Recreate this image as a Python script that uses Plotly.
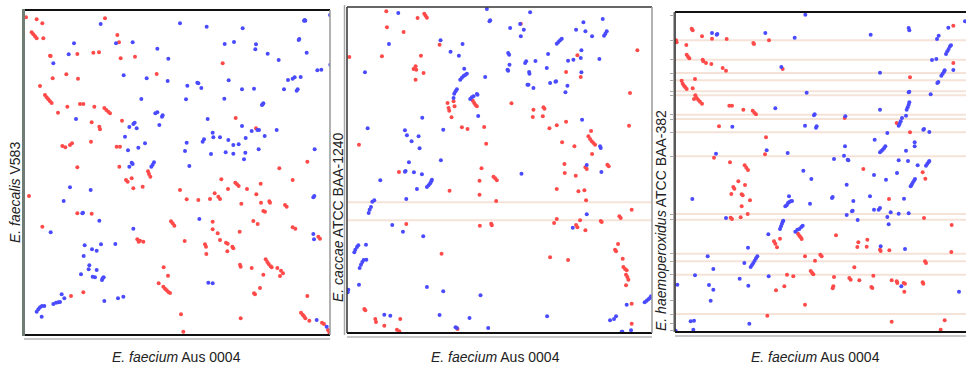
import plotly.graph_objects as go

W, H = 966, 369

# ---------------- data (genome positions, arbitrary bins; y counted from top) -------------
p1_fwd = [(6,22),(38,28),(55,40),(243,25),(23,67),(28,73),(33,79),(38,85),(58,85),(280,75),(285,97),
 (160,132),(78,137),(80,138),(208,128),(225,127),(290,145),(333,140),(596,160),(86,205),(127,193),(162,206),
 (398,192),(48,228),(63,255),(68,262),(73,268),(78,274),(83,279),(102,308),(130,290),(168,282),(178,282),
 (211,290),(241,294),(247,300),(253,305),(258,310),(203,337),(226,350),(228,358),(294,332),(201,395),
 (115,408),(124,412),(138,405),(144,400),(278,410),(288,410),(635,324),(696,355),(160,472),(286,470),
 (372,484),(375,492),(379,500),(306,510),(311,515),(323,505),(328,535),(356,530),(766,475),(850,455),
 (15,558),(468,540),(488,568),(523,570),(558,567),(572,550),(583,560),(588,567),(592,508),(634,518),
 (639,523),(644,528),(612,537),(652,581),(669,537),(697,553),(710,521),(711,578),(736,574),(738,578),
 (718,603),(723,605),(783,585),(788,590),(806,510),(160,610),(203,611),(55,650),(441,634),(446,640),
 (451,647),(566,635),(566,658),(581,670),(588,690),(606,698),(611,701),(625,710),(628,715),(647,665),
 (688,633),(701,642),(806,652),(814,656),(883,680),(888,686),(340,688),(344,695),(348,692),(358,695),
 (482,693),(543,703),(546,710),(547,732),(610,724),(648,764),(650,770),(683,774),(718,794),(725,748),
 (730,756),(734,762),(740,769),(743,772),(760,774),(768,798),(771,782),(777,790),(419,772),(432,797),
 (404,820),(418,830),(423,836),(428,841),(433,846),(438,849),(178,847),(141,858),(690,850),(693,853),
 (708,834),(850,858),(471,913),(478,965),(650,925),(831,908),(836,914),(840,919),(844,925),(856,932),
 (894,938),(900,942),(912,960),(916,968)]
p1_rev = [(230,42),(468,40),(548,50),(656,55),(840,32),(844,32),(842,30),(918,15),(150,100),(276,100),
 (326,97),(400,116),(602,102),(630,96),(696,103),(694,118),(824,90),(826,87),(134,133),(88,160),(433,146),
 (731,131),(764,150),(848,128),(299,196),(368,205),(431,213),(490,227),(520,218),(523,220),(532,234),
 (614,211),(654,238),(690,236),(780,238),(792,210),(806,206),(812,202),(830,201),(818,242),(821,238),
 (880,181),(892,179),(919,164),(352,267),(486,268),(601,266),(714,285),(718,280),(716,283),(156,327),
 (394,310),(400,307),(414,320),(416,316),(406,345),(316,351),(328,342),(332,338),(338,355),(303,380),
 (551,327),(654,348),(683,363),(700,360),(705,360),(722,378),(758,360),(540,388),(536,395),(566,368),
 (568,382),(588,382),(613,390),(628,405),(644,403),(665,384),(488,398),(483,423),(561,432),(605,427),
 (628,431),(664,428),(660,448),(704,418),(872,418),(312,421),(343,413),(363,400),(323,458),(326,462),
 (316,470),(382,470),(386,464),(390,457),(496,468),(138,532),(200,540),(119,573),(868,562),(871,558),
 (175,610),(177,608),(226,632),(80,667),(328,656),(526,627),(868,672),(870,688),(182,706),(204,718),
 (231,703),(179,738),(218,722),(196,766),(194,778),(218,780),(206,800),(213,802),(234,810),(236,805),
 (239,802),(274,702),(171,793),(553,818),(566,820),(113,853),(121,865),(88,882),(96,878),(103,877),
 (108,876),(38,905),(43,898),(48,892),(54,888),(61,888),(53,920),(241,873),(282,865),(298,860),
 (878,930),(908,950)]

p2_fwd = [(118,13),(120,61),(170,75),(212,33),(232,20),(236,26),(240,32),(7,150),(105,148),(278,113),
 (200,186),(206,178),(208,188),(230,198),(206,218),(222,146),(522,50),(692,145),(872,130),(658,195),
 (702,210),(850,258),(302,288),(320,283),(305,303),(307,311),(323,298),(314,331),(378,281),(382,288),
 (386,294),(390,298),(494,289),(560,308),(558,330),(590,301),(593,305),(588,328),(345,361),(362,366),
 (412,360),(418,410),(608,364),(630,355),(658,344),(733,372),(847,356),(36,413),(646,406),(683,418),
 (725,388),(730,396),(735,403),(740,408),(745,413),(736,441),(404,484),(398,521),(440,509),(445,514),
 (450,520),(156,495),(308,551),(398,563),(448,582),(653,471),(654,498),(687,506),(716,481),(720,486),
 (782,473),(786,478),(630,546),(695,553),(713,550),(718,580),(855,608),(178,651),(399,656),(433,650),
 (435,655),(622,648),(630,636),(688,654),(692,661),(700,640),(716,670),(762,642),(765,645),(818,628),
 (822,633),(814,711),(805,728),(808,733),(828,755),(830,780),(835,786),(840,790),(838,803),(842,810),
 (845,818),(838,835),(855,890),(855,950),(284,740),(610,751),(664,759),(52,906),(55,910),(85,936),
 (87,945),(112,956),(160,936),(150,968),(157,973),(332,966)]
p2_rev = [(154,18),(420,6),(430,40),(428,43),(550,16),(490,63),(520,51),(531,68),(522,88),(688,68),
 (710,46),(716,73),(736,88),(768,36),(772,86),(776,80),(780,73),(630,110),(635,105),(640,100),(645,95),
 (126,111),(281,100),(347,111),(311,134),(336,146),(484,138),(487,143),(488,173),(482,188),(484,191),
 (538,163),(535,168),(566,162),(604,141),(600,183),(547,195),(548,200),(542,233),(545,233),(560,243),
 (610,228),(626,224),(628,223),(662,236),(656,256),(664,161),(680,158),(702,153),(704,130),(758,156),
 (704,196),(54,196),(352,185),(340,218),(345,212),(350,207),(355,204),(360,200),(415,210),(322,260),
 (326,253),(330,247),(320,273),(370,276),(375,271),(380,268),(390,261),(392,263),(394,327),(226,332),
 (289,368),(62,364),(174,370),(180,385),(215,388),(194,403),(218,424),(282,460),(706,338),(760,418),
 (762,423),(720,474),(764,495),(524,500),(186,466),(174,494),(176,492),(201,496),(225,502),(240,540),
 (245,535),(250,529),(253,523),(255,518),(100,520),(210,546),(178,576),(65,618),(68,608),(72,600),
 (76,584),(82,580),(136,654),(168,674),(229,688),(720,622),(678,662),(22,736),(25,728),(30,720),
 (34,715),(57,713),(38,783),(42,773),(46,765),(50,759),(58,758),(36,833),(4,848),(2,856),(240,840),
 (289,853),(401,865),(112,923),(130,926),(278,924),(368,933),(326,961),(330,963),(424,963),(601,928),
 (840,893),(894,886),(900,881),(905,877),(910,873),(913,868),(790,940),(802,936),(808,928),(825,974),
 (827,974),(853,970)]

p3_fwd = [(50,50),(53,55),(81,73),(111,80),(155,81),(235,93),(237,96),(282,85),(3,85),(5,91),(34,99),
 (35,128),(39,134),(43,139),(83,143),(85,148),(93,153),(109,156),(143,168),(153,176),(323,171),(20,206),
 (23,215),(27,221),(31,226),(35,231),(53,229),(60,201),(61,250),(65,258),(70,264),(75,269),(81,275),
 (57,261),(163,281),(171,281),(205,293),(233,296),(238,302),(243,307),(132,343),(273,376),(270,427),
 (117,437),(165,451),(209,460),(214,467),(219,474),(190,508),(175,525),(178,530),(210,519),(169,546),
 (200,547),(203,550),(225,565),(200,583),(218,606),(167,617),(171,621),(197,616),(509,318),(565,471),
 (665,333),(705,361),(705,196),(835,41),(835,153),(743,481),(751,500),(642,561),(747,618),(830,639),
 (369,665),(373,671),(377,676),(380,681),(315,680),(297,688),(301,695),(306,706),(483,670),(550,691),
 (547,705),(577,683),(575,704),(615,713),(617,717),(643,715),(829,720),(390,733),(420,746),(436,728),
 (440,733),(750,748),(753,753),(336,788),(355,793),(407,777),(411,782),(415,787),(477,795),(538,766),
 (523,798),(527,803),(553,805),(595,791),(475,823),(473,829),(589,825),(592,828),(650,805),(665,808),
 (667,813),(686,813),(690,815),(688,839),(743,811),(745,815),(303,835),(328,823),(390,878),(277,911),
 (650,929),(809,925),(797,953)]
p3_rev = [(391,8),(701,48),(703,55),(587,68),(111,63),(125,68),(127,66),(271,63),(359,77),(786,81),
 (791,71),(820,47),(870,28),(813,126),(817,118),(821,111),(825,103),(828,100),(771,144),(784,141),
 (799,191),(803,185),(807,179),(809,175),(787,213),(790,210),(767,247),(835,174),(615,182),(319,165),
 (395,242),(701,241),(703,239),(695,293),(698,286),(701,278),(703,271),(693,311),(681,318),(671,341),
 (674,335),(677,328),(615,293),(637,363),(745,353),(747,351),(763,360),(301,289),(419,307),(417,310),
 (511,313),(390,341),(425,343),(423,347),(172,344),(123,425),(275,415),(338,423),(477,441),(507,431),
 (510,403),(520,445),(518,443),(615,421),(619,417),(623,413),(627,409),(631,403),(599,383),(693,416),
 (719,391),(719,403),(699,447),(671,445),(753,461),(757,455),(761,450),(763,447),(728,460),(707,523),
 (710,518),(713,512),(717,506),(720,501),(666,483),(385,476),(409,501),(597,489),(633,503),(515,518),
 (585,553),(687,560),(52,561),(331,583),(335,580),(339,573),(343,570),(347,568),(351,567),(342,553),
 (405,575),(471,558),(473,555),(535,567),(531,598),(533,596),(515,609),(548,624),(597,593),(611,593),
 (615,588),(647,601),(637,615),(641,637),(671,605),(701,604),(153,618),(315,651),(318,643),(321,635),
 (323,629),(325,626),(280,667),(361,659),(367,653),(373,651),(379,645),(383,641),(219,707),(227,765),
 (231,759),(235,753),(239,746),(243,739),(247,733),(208,753),(98,733),(115,771),(60,790),(281,793),
 (194,800),(220,821),(102,819),(115,833),(107,866),(7,818),(617,703),(690,711),(679,823),(852,839),
 (47,928),(57,926),(55,953),(223,935),(2,956)]

# contig boundaries in the draft assemblies (y positions)
p3_contig_lines = [85,143,183,205,238,250,308,321,361,433,606,623,725,748,788,906]
p3_contig_ticks = p3_contig_lines + [10,866,933,956]
p2_contig_lines = [586,640]

x_title = "<i>E. faecium</i> Aus 0004"
y_titles = ["<i>E. faecalis</i> V583", "<i>E. caccae</i> ATCC BAA-1240",
            "<i>E. haemoperoxidus</i> ATCC BAA-382"]

RED = "#ff4a4a"
BLUE = "#4a4aff"
FONT = dict(family="Liberation Sans", size=14, color="#222")

# ---------------- layout geometry -------------
def fx(px): return px / W
def fy(py): return 1 - py / H

panels = [
    dict(x0=24, x1=330, y0=10, y1=335, xr=918, yr=975, base=339, fwd=p1_fwd, rev=p1_rev, tx=176),
    dict(x0=347, x1=652, y0=7, y1=333, xr=916, yr=978, base=337, fwd=p2_fwd, rev=p2_rev, tx=495),
    dict(x0=675, x1=966, y0=12, y1=332, xr=873, yr=960, base=336, fwd=p3_fwd, rev=p3_rev, tx=815),
]

fig = go.Figure()
shapes = []
annotations = []
for i, p in enumerate(panels):
    n = "" if i == 0 else str(i + 1)
    xa, ya = "x" + n, "y" + n
    for pts, col in ((p["fwd"], RED), (p["rev"], BLUE)):
        fig.add_trace(go.Scatter(
            x=[a for a, b in pts], y=[b for a, b in pts], xaxis=xa, yaxis=ya,
            mode="markers", marker=dict(size=4, color=col, line=dict(width=0)),
            hoverinfo="skip", showlegend=False))
    fig.layout["xaxis" + n] = dict(domain=[fx(p["x0"]), fx(p["x1"])], range=[0, p["xr"]],
                                   anchor="free", position=fy(p["base"]), showline=True,
                                   linecolor="#c8c8c8", linewidth=2, showgrid=False,
                                   zeroline=False, showticklabels=False, ticks="")
    fig.layout["yaxis" + n] = dict(domain=[fy(p["y1"]), fy(p["y0"])], range=[p["yr"], 0],
                                   anchor=xa, showgrid=False, zeroline=False,
                                   showticklabels=False, ticks="", showline=False)
    annotations.append(dict(text=x_title, xref="paper", yref="paper",
                            x=fx(p["tx"]), y=fy(357), xanchor="center", yanchor="middle",
                            showarrow=False, font=FONT))

# y titles
for txt, xc, yc in zip(y_titles, [15, 338, 661], [193, 217, 221]):
    annotations.append(dict(text=txt, xref="paper", yref="paper", x=fx(xc), y=fy(yc),
                            xanchor="center", yanchor="middle",
                            textangle=-90, showarrow=False, font=FONT))

# contig boundary lines
for yv in p3_contig_lines:
    shapes.append(dict(type="line", xref="x3 domain", yref="y3", x0=0, x1=1, y0=yv, y1=yv,
                       line=dict(color="#f5e3d8", width=2), layer="below"))
for yv in p2_contig_lines:
    shapes.append(dict(type="line", xref="x2 domain", yref="y2", x0=0, x1=1, y0=yv, y1=yv,
                       line=dict(color="#f5e3d8", width=2), layer="below"))

# frames
def seg(x0, y0, x1, y1, color, w):
    shapes.append(dict(type="line", xref="paper", yref="paper", x0=fx(x0), y0=fy(y0),
                       x1=fx(x1), y1=fy(y1), line=dict(color=color, width=w)))

# panel 1
seg(24, 10, 330, 10, "#111", 2)
seg(24, 335, 330, 335, "#111", 2)
seg(330, 10, 330, 335, "#999", 1.5)
seg(23.5, 9, 23.5, 336, "#6f7d74", 3)
# panel 2
seg(347, 7, 652, 7, "#333", 1.5)
seg(347, 333, 652, 333, "#111", 2)
seg(652, 7, 652, 333, "#999", 1.5)
seg(347, 7, 347, 333, "#333", 1.5)
seg(344.5, 5, 344.5, 335, "#aaa", 1.5)
# panel 3
seg(675, 12, 966, 12, "#111", 2)
seg(675, 332, 966, 332, "#111", 2)
seg(675, 12, 675, 332, "#222", 1.5)

# left contig axis of panel 3 (ticks only)
fig.layout["yaxis4"] = dict(domain=[fy(332), fy(12)], range=[960, 0], overlaying="y3",
                            anchor="free", position=fx(672.5), showline=True, linecolor="#aaa",
                            linewidth=1, tickvals=p3_contig_ticks, ticks="outside", ticklen=3,
                            tickcolor="#aaa", showticklabels=False, showgrid=False, zeroline=False)
fig.add_trace(go.Scatter(x=[None], y=[None], xaxis="x3", yaxis="y4", showlegend=False,
                         hoverinfo="skip"))

fig.update_layout(width=W, height=H, margin=dict(l=0, r=0, t=0, b=0),
                  paper_bgcolor="white", plot_bgcolor="white",
                  shapes=shapes, annotations=annotations, showlegend=False)
fig.write_html("out.html")
